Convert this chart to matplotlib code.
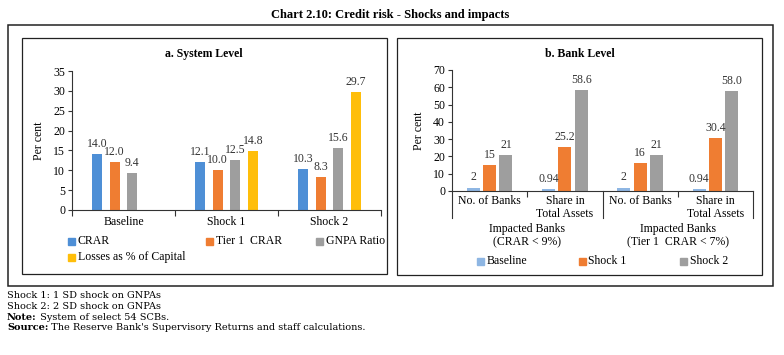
import numpy as np
import matplotlib
matplotlib.use("Agg")
import matplotlib.pyplot as plt
from matplotlib.patches import Rectangle
from matplotlib.transforms import blended_transform_factory

# ---- data ----
scenarios = ["Baseline", "Shock 1", "Shock 2"]
crar = [14.0, 12.1, 10.3]
tier1_crar = [12.0, 10.0, 8.3]
gnpa_ratio = [9.4, 12.5, 15.6]
losses_pct_capital = [np.nan, 14.8, 29.7]

bank_cats = ["No. of Banks", "Share in\nTotal Assets", "No. of Banks", "Share in\nTotal Assets"]
bank_groups = ["Impacted Banks\n(CRAR < 9%)", "Impacted Banks\n(Tier 1  CRAR < 7%)"]
bank_baseline = [2, 0.94, 2, 0.94]
bank_shock1 = [15, 25.2, 16, 30.4]
bank_shock2 = [21, 58.6, 21, 58.0]
bank_baseline_lbl = ["2", "0.94", "2", "0.94"]
bank_shock1_lbl = ["15", "25.2", "16", "30.4"]
bank_shock2_lbl = ["21", "58.6", "21", "58.0"]

W, H = 784, 355
plt.rcParams['font.family'] = ['Liberation Serif', 'DejaVu Serif']
fig = plt.figure(figsize=(W / 100, H / 100), dpi=100)

def fx(px):
    return px / W

def fy(py):
    return 1 - py / H

line_col = '#333333'
fs = 8.5

# frames
fig.patches.append(Rectangle((fx(8), fy(286)), fx(773) - fx(8), fy(25) - fy(286),
                             transform=fig.transFigure, fill=False, ec='#222222', lw=1.1))
fig.patches.append(Rectangle((fx(22), fy(274)), fx(387) - fx(22), fy(38) - fy(274),
                             transform=fig.transFigure, fill=False, ec='#222222', lw=0.9))
fig.patches.append(Rectangle((fx(397), fy(275)), fx(762) - fx(397), fy(38) - fy(275),
                             transform=fig.transFigure, fill=False, ec='#222222', lw=0.9))

fig.text(fx(390), fy(15), "Chart 2.10: Credit risk - Shocks and impacts", ha='center', va='center',
         fontsize=9, fontweight='bold')


def legend_item(px, py, color, label):
    s = 7
    fig.patches.append(Rectangle((fx(px - s / 2), fy(py + s / 2)), s / W, s / H,
                                 transform=fig.transFigure, color=color))
    fig.text(fx(px + s / 2 + 3), fy(py), label, ha='left', va='center', fontsize=fs)


# ---- panel a ----
c_crar, c_t1, c_gnpa, c_loss = '#4E8FD6', '#EF7D32', '#9E9E9E', '#FFBE0A'
ax1 = fig.add_axes([fx(72), fy(210), fx(381) - fx(72), fy(71) - fy(210)])
x = np.arange(len(scenarios))
step, bw = 0.171, 0.10
series = [(crar, c_crar), (tier1_crar, c_t1), (gnpa_ratio, c_gnpa), (losses_pct_capital, c_loss)]
for i, (vals, col) in enumerate(series):
    bars = ax1.bar(x + (i - 1.5) * step, vals, bw, color=col)
    ax1.bar_label(bars, labels=["" if np.isnan(v) else f"{v:.1f}" for v in vals],
                  padding=3, fontsize=fs, color='#333333')
ax1.set_xlim(-0.5, 2.5)
ax1.set_ylim(0, 35)
ax1.set_yticks(range(0, 36, 5))
ax1.set_xticks([-0.5, 0.5, 1.5, 2.5])
ax1.set_xticklabels([])
ax1.set_xticks(x, minor=True)
ax1.set_xticklabels(scenarios, minor=True, fontsize=fs)
ax1.tick_params(axis='x', which='major', length=4, color=line_col)
ax1.tick_params(axis='x', which='minor', length=0, pad=4)
ax1.tick_params(axis='y', length=3, labelsize=fs, pad=2, color=line_col)
for sp in ['top', 'right']:
    ax1.spines[sp].set_visible(False)
for sp in ['left', 'bottom']:
    ax1.spines[sp].set_color(line_col)
ax1.set_ylabel("Per cent", fontsize=fs, labelpad=6)
fig.text(fx(204), fy(54), "a. System Level", ha='center', va='center', fontsize=fs, fontweight='bold')

legend_item(71, 241, c_crar, "CRAR")
legend_item(209, 241, c_t1, "Tier 1  CRAR")
legend_item(319, 241, c_gnpa, "GNPA Ratio")
legend_item(71, 257, c_loss, "Losses as % of Capital")

# ---- panel b ----
c_base, c_s1, c_s2 = '#8EB6E3', '#EF7D32', '#9E9E9E'
ax2 = fig.add_axes([fx(452), fy(191), fx(753) - fx(452), fy(70) - fy(191)])
xb = np.arange(len(bank_cats))
step2, bw2 = 0.217, 0.173
for i, (vals, lbls, col) in enumerate([(bank_baseline, bank_baseline_lbl, c_base),
                                        (bank_shock1, bank_shock1_lbl, c_s1),
                                        (bank_shock2, bank_shock2_lbl, c_s2)]):
    bars = ax2.bar(xb + (i - 1) * step2, vals, bw2, color=col)
    ax2.bar_label(bars, labels=lbls, padding=3, fontsize=fs, color='#333333')
ax2.set_xlim(-0.5, 3.5)
ax2.set_ylim(0, 70)
ax2.set_yticks(range(0, 71, 10))
ax2.set_xticks([0.5, 2.5])
ax2.set_xticklabels([])
ax2.set_xticks(xb, minor=True)
ax2.set_xticklabels(bank_cats, minor=True, fontsize=fs, linespacing=1.1)
ax2.tick_params(axis='x', which='major', length=4, color=line_col)
ax2.tick_params(axis='x', which='minor', length=0, pad=3)
ax2.tick_params(axis='y', length=3, labelsize=fs, pad=2, color=line_col)
for sp in ['top', 'right']:
    ax2.spines[sp].set_visible(False)
for sp in ['left', 'bottom']:
    ax2.spines[sp].set_color(line_col)
ax2.set_ylabel("Per cent", fontsize=fs, labelpad=6)

tr = blended_transform_factory(ax2.transData, ax2.transAxes)
depth = (218 - 191) / (191 - 70)
for b in [-0.5, 1.5, 3.5]:
    ax2.plot([b, b], [0, -depth], transform=tr, color=line_col, lw=0.8, clip_on=False)
for gi, g in enumerate(bank_groups):
    ax2.text(gi * 2 + 0.5, -(236 - 191) / (191 - 70), g, transform=tr, ha='center', va='center',
             fontsize=fs, linespacing=1.15)
fig.text(fx(580), fy(54), "b. Bank Level", ha='center', va='center', fontsize=fs, fontweight='bold')

legend_item(480, 261, c_base, "Baseline")
legend_item(582, 261, c_s1, "Shock 1")
legend_item(683, 261, c_s2, "Shock 2")

# ---- footnotes (wider face, closer to the reference's set width) ----
fn = 7
ff = ['DejaVu Serif']
fig.text(fx(7), fy(296), "Shock 1: 1 SD shock on GNPAs", va='center', fontsize=fn, family=ff)
fig.text(fx(7), fy(306.5), "Shock 2: 2 SD shock on GNPAs", va='center', fontsize=fn, family=ff)
renderer = fig.canvas.get_renderer()
for py, head, body in [(317, "Note:", " System of select 54 SCBs."),
                       (327.5, "Source:", " The Reserve Bank's Supervisory Returns and staff calculations.")]:
    t = fig.text(fx(7), fy(py), head, va='center', fontsize=fn, fontweight='bold', family=ff)
    ext = t.get_window_extent(renderer)
    fig.text(ext.x1 / fig.dpi / fig.get_figwidth(), fy(py), body, va='center', fontsize=fn, family=ff)

fig.savefig("out.png", dpi=100)
